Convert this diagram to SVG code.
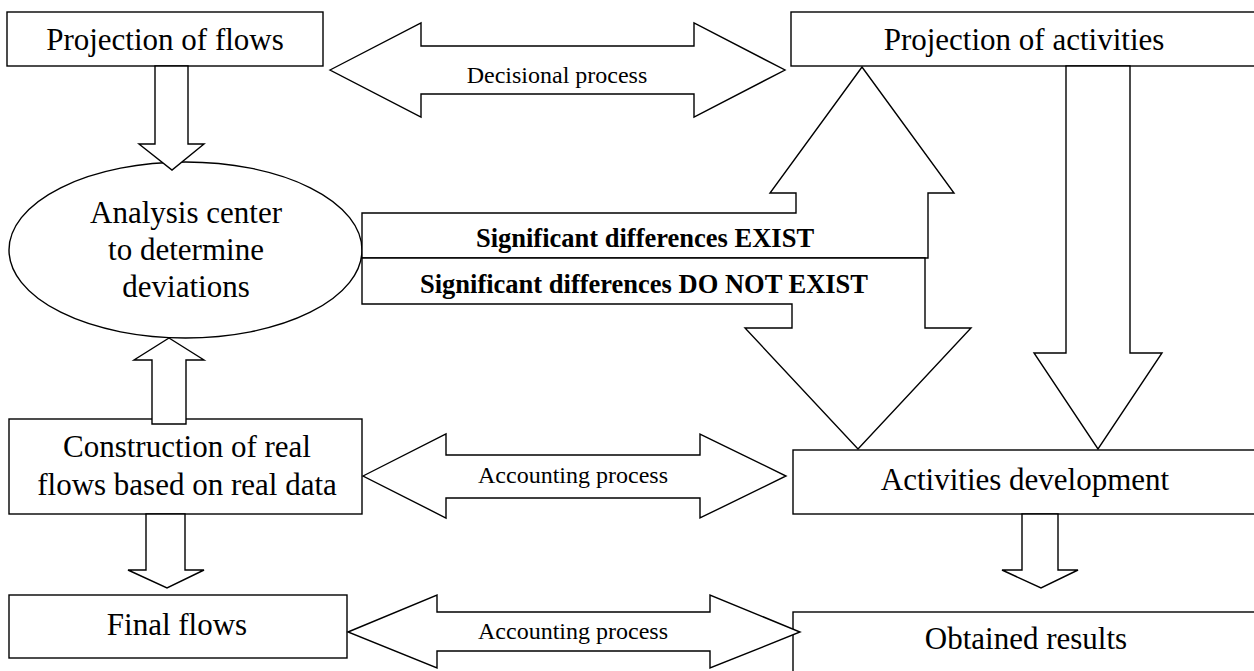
<svg xmlns="http://www.w3.org/2000/svg" width="1254" height="671" viewBox="0 0 1254 671">
<style>
.box{fill:#fff;stroke:#000;stroke-width:1.4}
.arr{fill:#fff;stroke:#000;stroke-width:1.4;stroke-linejoin:miter}
.t{font-family:"Liberation Serif","Times New Roman",serif;font-size:31px;fill:#000;text-anchor:middle}
.lbl{font-family:"Liberation Serif","Times New Roman",serif;font-size:24px;fill:#000;text-anchor:middle}
.b{font-family:"Liberation Serif","Times New Roman",serif;font-size:26.5px;font-weight:bold;fill:#000;text-anchor:middle}
</style>
<rect width="1254" height="671" fill="#fff"/>
<g id="proj-flows"><rect class="box" x="7" y="12" width="316" height="54"/><text class="t" x="165" y="50">Projection of flows</text></g>
<g id="proj-activities"><rect class="box" x="791" y="12" width="470" height="54"/><text class="t" x="1024" y="50">Projection of activities</text></g>
<g id="analysis-center"><ellipse class="box" cx="185.5" cy="250" rx="176.5" ry="88"/><text class="t" x="186" y="223">Analysis center</text><text class="t" x="186" y="260">to determine</text><text class="t" x="186" y="297">deviations</text></g>
<g id="construction"><rect class="box" x="9" y="419" width="353" height="95"/><text class="t" x="187" y="457">Construction of real</text><text class="t" x="187" y="495">flows based on real data</text></g>
<g id="final-flows"><rect class="box" x="9" y="595" width="338" height="63"/><text class="t" x="177" y="635">Final flows</text></g>
<g id="activities-dev"><rect class="box" x="793" y="450" width="470" height="64"/><text class="t" x="1025" y="490">Activities development</text></g>
<g id="obtained-results"><rect class="box" x="793" y="612" width="470" height="70"/><text class="t" x="1026" y="649">Obtained results</text></g>
<g id="connectors">
<polygon class="arr" points="155,66 188,66 188,144 204,144 172,170 139,144 155,144"/>
<polygon class="arr" points="330,70 421,23 421,46 694,46 694,23 785,70 694,117 694,94 421,94 421,117"/>
<text class="lbl" x="557" y="83">Decisional process</text>
<polygon class="arr" points="362,213 796,213 796,193 770,193 862,67 954,193 928,193 928,258 362,258"/>
<text class="b" x="645" y="247">Significant differences EXIST</text>
<polygon class="arr" points="362,258 925,258 925,328 971,328 858,449 745,328 792,328 792,304 362,304"/>
<text class="b" x="644" y="293">Significant differences DO NOT EXIST</text>
<polygon class="arr" points="1066,66 1130,66 1130,353 1162,353 1098,449 1034,353 1066,353"/>
<polygon class="arr" points="152,424 186,424 186,360 204,360 169,338 134,360 152,360"/>
<polygon class="arr" points="146,514 185,514 185,570 204,570 167,588 128,570 146,570"/>
<polygon class="arr" points="363,476 446,434 446,455 700,455 700,434 786,476 700,518 700,498 446,498 446,518"/>
<text class="lbl" x="573" y="483">Accounting process</text>
<polygon class="arr" points="1022,514 1058,514 1058,570 1078,570 1041,588 1002,570 1022,570"/>
<polygon class="arr" points="348,632 437,595 437,612 710,612 710,595 800,632 710,668 710,651 437,651 437,668"/>
<text class="lbl" x="573" y="639">Accounting process</text>
</g>
</svg>
